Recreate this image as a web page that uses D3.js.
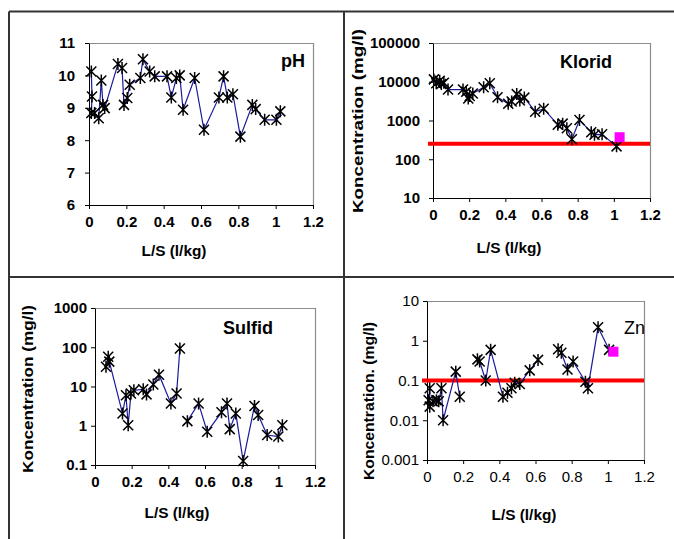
<!DOCTYPE html>
<html>
<head>
<meta charset="utf-8">
<script src="https://cdn.jsdelivr.net/npm/d3@7"></script>
<style>
    body { margin: 0; background: #fff; }
    svg { display: block; font-family: "Liberation Sans", Arial, sans-serif; }
    .axis path, .axis line { stroke: #000; stroke-width: 1; }
    .axis text { fill: #000; font-size: 15px; font-weight: bold; }
    .axis.plain text { font-weight: normal; }
</style>
</head>
<body>
<div id="chart"></div>
<script>
// ====== Leaching data ======
// x values are L/S (l/kg); null marks a break in the line

let xTicks = [0, 0.2, 0.4, 0.6, 0.8, 1, 1.2];

// pH
let phLS = [0.0125, 0.016, 0.0125, 0.03, 0.052, 0.066, 0.075, 0.084, 0.155, 0.177, 0.1875, 0.205, 0.218,
    0.275, 0.289, 0.325, 0.352, 0.418, 0.441, 0.468, 0.486, 0.504, 0.566, 0.616, 0.696, 0.721, 0.741,
    0.771, 0.811, 0.875, 0.893, 0.941, 1.004, 1.025];
let phValues = [10.12, 9.35, 8.84, 8.84, 8.68, 9.84, 9.09, 8.99, 10.35, 10.23, 9.09, 9.3, 9.71,
    9.92, 10.5, 10.12, 9.97, 9.97, 9.32, 9.92, 10.0, 8.94, 9.92, 8.32, 9.32, 9.97, 9.32,
    9.42, 8.11, 9.09, 8.96, 8.63, 8.63, 8.89];
let phTicks = [6, 7, 8, 9, 10, 11];

// Klorid (mg/l)
let kloridLS = [0.005, 0.018, 0.037, 0.046, 0.06, 0.083, 0.166, 0.184, 0.195, 0.203, 0.22, 0.28, 0.314,
    0.357, 0.416, 0.435, 0.463, 0.48, 0.505, 0.565, 0.612, 0.69, 0.717, 0.74, 0.768, 0.81, 0.875,
    0.893, 0.935, 1.015];
let kloridValues = [11500, 9100, 10600, 8700, 9400, 6300, 6300, 5500, 3700, 4300, 5000, 7200, 9100,
    4000, 2700, 3100, 4800, 3300, 3900, 1690, 2000, 780, 830, 630, 330, 1030, 500,
    430, 440, 215];
let kloridLimit = 250;
let kloridExtra = {ls: 1.032, value: 370};
let kloridTicks = [10, 100, 1000, 10000, 100000];

// Sulfid (mg/l)
let sulfidLS = [0.06, 0.072, 0.078, 0.15, 0.169, 0.181, 0.196, 0.212, 0.263, 0.281, 0.318, 0.349, 0.414,
    0.445, 0.463, null, 0.504, 0.565, 0.612, 0.69, 0.72, 0.735, 0.768, 0.808, 0.87, 0.89, 0.939,
    1.0, 1.022];
let sulfidValues = [32, 57, 43, 2.06, 6.0, 1.03, 6.6, 8.0, 8.5, 6.3, 11.3, 20, 3.7,
    6.6, 93, null, 1.31, 3.7, 0.70, 2.2, 3.7, 0.82, 2.06, 0.126, 3.2, 1.87, 0.58,
    0.53, 1.03];
let sulfidTicks = [0.1, 1, 10, 100, 1000];

// Zn (mg/l)
let znLS = [0.009, 0.015, 0.015, 0.033, 0.052, 0.065, 0.08, 0.089, 0.159, 0.181, null,
    0.279, 0.291, 0.325, 0.352, 0.42, 0.445, 0.467, 0.485, 0.513, 0.568, 0.614, null,
    0.725, 0.743, 0.777, 0.808, 0.876, 0.89, 0.946, 1.007];
let znValues = [0.032, 0.064, 0.022, 0.030, 0.032, 0.030, 0.064, 0.010, 0.167, 0.039, null,
    0.34, 0.30, 0.10, 0.59, 0.039, 0.049, 0.064, 0.088, 0.082, 0.18, 0.33, null,
    0.61, 0.50, 0.19, 0.30, 0.093, 0.064, 2.18, 0.59];
let znLimit = 0.1;
let znExtra = {ls: 1.031, value: 0.53};
let znTicks = [0.001, 0.01, 0.1, 1, 10];

let svg = d3.select('#chart').append("svg")
    .attr("width", 674)
    .attr("height", 539);

// panel frame
let frame = svg.append("g")
    .attr("stroke", "#333")
    .attr("stroke-width", 2);
frame.append("line").attr("x1", 9).attr("y1", 11.5).attr("x2", 674).attr("y2", 11.5);
frame.append("line").attr("x1", 9).attr("y1", 11.5).attr("x2", 9).attr("y2", 539);
frame.append("line").attr("x1", 344).attr("y1", 11.5).attr("x2", 344).attr("y2", 539);
frame.append("line").attr("x1", 9).attr("y1", 277).attr("x2", 674).attr("y2", 277);

function buildPanel (p) {
    let x = d3.scaleLinear().domain([0, 1.2]).range([p.left, p.right]);
    let y = (p.log ? d3.scaleLog() : d3.scaleLinear())
        .domain([p.ticks[0], p.ticks[p.ticks.length - 1]])
        .range([p.bottom, p.top]);

    let g = svg.append("g");

    // gray top and right border of plot area
    g.append("path")
        .attr("d", "M" + p.left + "," + (p.top + 0.5) + "H" + (p.right + 0.5) + "V" + p.bottom)
        .attr("fill", "none")
        .attr("stroke", "#8c8c8c")
        .attr("stroke-width", 1.2);

    g.append("g")
        .attr("class", "x axis" + (p.plain ? " plain" : ""))
        .attr("transform", "translate(0," + p.bottom + ")")
        .call(d3.axisBottom(x).tickValues(xTicks).tickSize(4).tickSizeOuter(0)
            .tickPadding(7).tickFormat(function(d) { return String(d); }));

    g.append("g")
        .attr("class", "y axis" + (p.plain ? " plain" : ""))
        .attr("transform", "translate(" + p.left + ",0)")
        .call(d3.axisLeft(y).tickValues(p.ticks).tickSize(4).tickSizeOuter(0)
            .tickPadding(p.pad).tickFormat(function(d) { return String(d); }));

    // limit value
    if (p.limit !== undefined) {
        g.append("line")
            .attr("x1", x(0) - 5)
            .attr("x2", x(1.2))
            .attr("y1", y(p.limit))
            .attr("y2", y(p.limit))
            .attr("stroke", "#ff0000")
            .attr("stroke-width", 4);
    }

    let points = p.ls.map(function(d, i) { return {ls: d, v: p.values[i]}; });

    let line = d3.line()
        .defined(function(d) { return d.ls !== null && d.v !== null; })
        .x(function(d) { return x(d.ls); })
        .y(function(d) { return y(d.v); });

    g.append("path")
        .datum(points)
        .attr("d", line)
        .attr("fill", "none")
        .attr("stroke", "#1a1a9c")
        .attr("stroke-width", 1.2);

    g.selectAll(".star")
        .data(points.filter(function(d) { return d.ls !== null; }))
        .enter().append("path")
        .attr("class", "star")
        .attr("transform", function(d) { return "translate(" + x(d.ls) + "," + y(d.v) + ")"; })
        .attr("d", "M-5,-5L5,5M-5,5L5,-5M0,-6L0,6")
        .attr("stroke", "#000")
        .attr("stroke-width", 1.5);

    if (p.extra) {
        g.append("rect")
            .attr("x", x(p.extra.ls) - 5)
            .attr("y", y(p.extra.value) - 5)
            .attr("width", 10)
            .attr("height", 10)
            .attr("fill", "#ff00ff");
    }

    // titles
    g.append("text")
        .attr("x", p.titleX)
        .attr("y", p.titleY)
        .style("text-anchor", p.titleAnchor)
        .style("font-size", "18px")
        .style("font-weight", p.plain ? "normal" : "bold")
        .text(p.title);

    g.append("text")
        .attr("x", p.xTitleX)
        .attr("y", p.xTitleY)
        .style("text-anchor", "middle")
        .style("font-size", "14px")
        .style("font-weight", "bold")
        .attr("textLength", 65)
        .attr("lengthAdjust", "spacingAndGlyphs")
        .text("L/S (l/kg)");

    if (p.yTitle) {
        g.append("text")
            .attr("transform", "translate(" + p.yTitleX + "," + p.yTitleY + ") rotate(-90)")
            .attr("dy", "0.35em")
            .style("text-anchor", "middle")
            .style("font-size", "15px")
            .style("font-weight", "bold")
            .attr("textLength", p.yTitleLen)
            .attr("lengthAdjust", "spacingAndGlyphs")
            .text(p.yTitle);
    }
}

buildPanel({ls: phLS, values: phValues, ticks: phTicks, log: false,
    left: 89, right: 313, top: 43, bottom: 205, pad: 10,
    title: "pH", titleX: 305, titleY: 67, titleAnchor: "end",
    xTitleX: 174, xTitleY: 256});

buildPanel({ls: kloridLS, values: kloridValues, ticks: kloridTicks, log: true,
    left: 433, right: 650, top: 43, bottom: 198, pad: 9,
    limit: kloridLimit, extra: kloridExtra,
    title: "Klorid", titleX: 560, titleY: 68, titleAnchor: "start",
    xTitleX: 509, xTitleY: 253,
    yTitle: "Koncentration (mg/l)", yTitleX: 358, yTitleY: 121, yTitleLen: 184});

buildPanel({ls: sulfidLS, values: sulfidValues, ticks: sulfidTicks, log: true,
    left: 95, right: 315, top: 308, bottom: 465, pad: 4,
    title: "Sulfid", titleX: 223, titleY: 334, titleAnchor: "start",
    xTitleX: 177, xTitleY: 518,
    yTitle: "Koncentration (mg/l)", yTitleX: 28, yTitleY: 389, yTitleLen: 168});

buildPanel({ls: znLS, values: znValues, ticks: znTicks, log: true, plain: true,
    left: 427, right: 644, top: 301, bottom: 460, pad: 4,
    limit: znLimit, extra: znExtra,
    title: "Zn", titleX: 624, titleY: 334, titleAnchor: "start",
    xTitleX: 524, xTitleY: 520,
    yTitle: "Koncentration. (mg/l)", yTitleX: 369, yTitleY: 401, yTitleLen: 158});
</script>
</body>
</html>
